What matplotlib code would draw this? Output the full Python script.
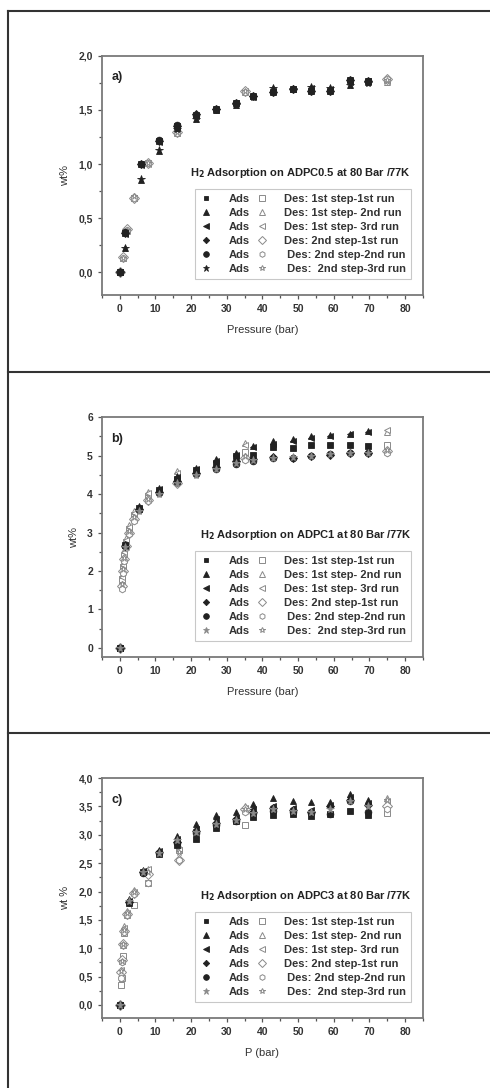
import numpy as np
import matplotlib
matplotlib.use('Agg')
import matplotlib.pyplot as plt
from matplotlib.lines import Line2D
from matplotlib.ticker import MultipleLocator, FuncFormatter

plt.rcParams['font.family'] = ['Liberation Sans', 'DejaVu Sans']
plt.rcParams['font.weight'] = 'bold'

#legend labels
des_labels = ['Des: 1st step-1st run', 'Des: 1st step- 2nd run', 'Des: 1st step- 3rd run',
              'Des: 2nd step-1st run', ' Des: 2nd step-2nd run', ' Des:  2nd step-3rd run']

########################################################
#panel a) ADPC0.5
P_ads_a = [0, 1.5, 6, 11, 16, 21.5, 27, 32.5, 37.5, 43, 48.5, 53.5, 59, 64.5, 69.5]
a_ads = [
    [0, 0.36, 1.00, 1.21, 1.35, 1.45, 1.51, 1.56, 1.63, 1.67, 1.69, 1.68, 1.68, 1.78, 1.77],
    [0, 0.22, 0.85, 1.12, 1.33, 1.42, 1.50, 1.55, 1.63, 1.70, 1.69, 1.71, 1.70, 1.73, 1.76],
    [0, 0.35, 0.99, 1.20, 1.34, 1.44, 1.50, 1.56, 1.62, 1.68, 1.69, 1.70, 1.69, 1.76, 1.77],
    [0, 0.36, 1.00, 1.21, 1.35, 1.46, 1.51, 1.56, 1.63, 1.67, 1.69, 1.68, 1.68, 1.78, 1.77],
    [0, 0.37, 1.00, 1.22, 1.36, 1.45, 1.51, 1.56, 1.63, 1.67, 1.69, 1.68, 1.68, 1.78, 1.77],
    [0, 0.22, 0.86, 1.13, 1.32, 1.42, 1.50, 1.55, 1.62, 1.70, 1.69, 1.71, 1.70, 1.73, 1.75],
]
P_des_a = [75, 35, 16, 8, 4, 2, 1, 0]
a_des = [
    [1.78, 1.67, 1.29, 1.01, 0.69, 0.39, 0.13, 0],
    [1.76, 1.68, 1.30, 1.01, 0.69, 0.38, 0.13, 0],
    [1.77, 1.68, 1.29, 1.00, 0.69, 0.39, 0.13, 0],
    [1.79, 1.68, 1.30, 1.01, 0.69, 0.40, 0.14, 0],
    [1.79, 1.67, 1.29, 1.01, 0.69, 0.39, 0.13, 0],
    [1.78, 1.68, 1.30, 1.01, 0.70, 0.39, 0.13, 0],
]

########################################################
#panel b) ADPC1
P_ads_b = [0, 1.5, 5.5, 11, 16, 21.5, 27, 32.5, 37.5, 43, 48.5, 53.5, 59, 64.5, 69.5]
b_ads = [
    [0, 2.68, 3.65, 4.10, 4.40, 4.62, 4.82, 4.98, 5.02, 5.22, 5.20, 5.28, 5.28, 5.28, 5.26],
    [0, 2.70, 3.70, 4.15, 4.48, 4.68, 4.90, 5.06, 5.26, 5.37, 5.42, 5.50, 5.54, 5.57, 5.65],
    [0, 2.66, 3.62, 4.12, 4.45, 4.65, 4.86, 5.02, 5.22, 5.30, 5.38, 5.45, 5.50, 5.55, 5.62],
    [0, 2.65, 3.60, 4.05, 4.35, 4.55, 4.70, 4.85, 4.90, 4.96, 4.95, 4.98, 5.02, 5.08, 5.08],
    [0, 2.64, 3.58, 4.02, 4.32, 4.52, 4.66, 4.78, 4.86, 4.94, 4.94, 4.98, 5.04, 5.06, 5.06],
    [0, 2.62, 3.55, 4.00, 4.30, 4.50, 4.65, 4.80, 4.88, 4.95, 4.96, 5.00, 5.05, 5.08, 5.08],
]
P_des_b = [75, 35, 16, 8, 4, 2.5, 1.8, 1.2, 0.8, 0.5, 0]
b_des = [
    [5.28, 5.10, 4.35, 3.95, 3.45, 3.10, 2.75, 2.40, 2.10, 1.80, 0],
    [5.62, 5.32, 4.60, 4.05, 3.55, 3.20, 2.85, 2.55, 2.20, 1.90, 0],
    [5.67, 5.28, 4.55, 4.02, 3.50, 3.15, 2.80, 2.50, 2.15, 1.85, 0],
    [5.12, 4.95, 4.30, 3.85, 3.35, 3.00, 2.65, 2.30, 2.00, 1.60, 0],
    [5.08, 4.89, 4.28, 3.82, 3.30, 2.95, 2.60, 2.25, 1.95, 1.52, 0],
    [5.15, 4.98, 4.32, 3.88, 3.40, 3.05, 2.70, 2.35, 2.05, 1.65, 0],
]

########################################################
#panel c) ADPC3
P_ads_c = [0, 2.5, 6.5, 11, 16, 21.5, 27, 32.5, 37.5, 43, 48.5, 53.5, 59, 64.5, 69.5]
c_ads = [
    [0, 1.80, 2.34, 2.66, 2.82, 2.92, 3.12, 3.24, 3.32, 3.35, 3.36, 3.33, 3.36, 3.42, 3.34],
    [0, 1.86, 2.38, 2.74, 2.97, 3.19, 3.35, 3.41, 3.54, 3.65, 3.60, 3.58, 3.58, 3.71, 3.62],
    [0, 1.84, 2.36, 2.71, 2.92, 3.10, 3.28, 3.30, 3.46, 3.50, 3.47, 3.44, 3.52, 3.66, 3.56],
    [0, 1.82, 2.35, 2.69, 2.88, 3.06, 3.20, 3.27, 3.40, 3.47, 3.44, 3.41, 3.50, 3.62, 3.53],
    [0, 1.81, 2.33, 2.67, 2.86, 3.03, 3.17, 3.25, 3.38, 3.42, 3.40, 3.38, 3.36, 3.59, 3.40],
    [0, 1.83, 2.34, 2.68, 2.90, 3.05, 3.19, 3.26, 3.39, 3.45, 3.42, 3.40, 3.45, 3.60, 3.50],
]
P_des_c = [75, 35, 16.5, 8, 4, 2, 1.2, 0.8, 0.5, 0.3, 0]
c_des = [
    [3.38, 3.18, 2.74, 2.15, 1.77, 1.58, 1.27, 0.86, 0.48, 0.36, 0],
    [3.65, 3.50, 2.80, 2.40, 2.02, 1.65, 1.39, 1.06, 0.77, 0.62, 0],
    [3.60, 3.48, 2.74, 2.39, 2.00, 1.62, 1.35, 1.06, 0.77, 0.62, 0],
    [3.50, 3.45, 2.56, 2.30, 1.98, 1.60, 1.30, 1.08, 0.80, 0.58, 0],
    [3.45, 3.40, 2.56, 2.15, 1.95, 1.59, 1.29, 1.05, 0.75, 0.48, 0],
    [3.62, 3.46, 2.70, 2.35, 2.00, 1.62, 1.32, 1.07, 0.78, 0.60, 0],
]

ads_markers = ['s', '^', '<', 'D', 'o', '*']
des_markers = ['s', '^', '<', 'D', 'h', '*']
ads_sizes = [3.8, 4.8, 4.8, 3.8, 4.8, 5.8]
grey = '#8a8a8a'
dark = '#222222'


def comma(v, pos):
    return ('%.1f' % v).replace('.', ',')


def panel(rect, tag, P_ads, ads, P_des, des, ylim, ymajor, yfmt, ylab, xlab, title, star_col):
    ax = fig.add_axes(rect)
    handles = []
    for i in range(6):
        col = dark
        if i == 5:
            col = star_col
        h, = ax.plot(P_ads, ads[i], ls='none', marker=ads_markers[i], ms=ads_sizes[i],
                     mfc=col, mec=col, mew=0.6, zorder=3)
        handles.append(h)
    for i in range(6):
        h, = ax.plot(P_des, des[i], ls='none', marker=des_markers[i], ms=4.8,
                     mfc='white', mec=grey, mew=0.7, zorder=2)
        handles.append(h)

    ax.set_xlim(-5, 85)
    ax.set_ylim(ylim)
    ax.xaxis.set_major_locator(MultipleLocator(10))
    ax.xaxis.set_minor_locator(MultipleLocator(5))
    ax.yaxis.set_major_locator(MultipleLocator(ymajor))
    ax.yaxis.set_minor_locator(MultipleLocator(ymajor / 2.))
    if yfmt:
        ax.yaxis.set_major_formatter(FuncFormatter(comma))
    for s in ax.spines.values():
        s.set_color('#7a7a7a')
        s.set_linewidth(1.3)
    ax.tick_params(which='both', direction='out', colors='#555555', labelcolor='#333333',
                   labelsize=7.5, width=0.9)
    ax.tick_params(which='major', length=3)
    ax.tick_params(which='minor', length=2)
    ax.set_xlabel(xlab, fontsize=8, color='#333333', labelpad=8)
    ax.set_ylabel(ylab, fontsize=8, color='#333333', labelpad=6)
    ax.text(0.03, 0.935, tag, transform=ax.transAxes, fontsize=9, color='#222222',
            va='top', ha='left')
    ax.text(0.963, 0.51, title, transform=ax.transAxes, fontsize=8, color='#222222',
            ha='right', va='center')

    labels = ['Ads'] * 6 + des_labels
    leg = ax.legend(handles, labels, ncol=2, loc='lower right', bbox_to_anchor=(0.963, 0.067),
                    fontsize=8, frameon=True, fancybox=False, handlelength=1.2,
                    handletextpad=1.4, columnspacing=0.5, labelspacing=0.36,
                    borderpad=0.45, borderaxespad=0, markerscale=0.85)
    leg.get_frame().set_edgecolor('#bbbbbb')
    leg.get_frame().set_linewidth(0.8)
    for t in leg.get_texts():
        t.set_color('#333333')
    return ax


fig = plt.figure(figsize=(4.9, 10.88), dpi=100)

panel([0.208, 0.729, 0.655, 0.2196], 'a)', P_ads_a, a_ads, P_des_a, a_des,
      (-0.21, 2.0), 0.5, True, 'wt%', 'Pressure (bar)',
      'H$_2$ Adsorption on ADPC0.5 at 80 Bar /77K', dark)
panel([0.208, 0.396, 0.655, 0.2206], 'b)', P_ads_b, b_ads, P_des_b, b_des,
      (-0.24, 6.0), 1, False, 'wt%', 'Pressure (bar)',
      'H$_2$ Adsorption on ADPC1 at 80 Bar /77K', grey)
panel([0.208, 0.0643, 0.655, 0.2206], 'c)', P_ads_c, c_ads, P_des_c, c_des,
      (-0.23, 4.0), 0.5, True, 'wt %', 'P (bar)',
      'H$_2$ Adsorption on ADPC3 at 80 Bar /77K', grey)

#outer frame and separators
for yy in [0.9899, 0.658, 0.3263]:
    fig.add_artist(Line2D([0.0163, 1.0], [yy, yy], color='#333333', lw=1.5))
fig.add_artist(Line2D([0.0163, 0.0163], [0.0, 0.9899], color='#333333', lw=1.5))

plt.savefig('out.png', dpi=100)
